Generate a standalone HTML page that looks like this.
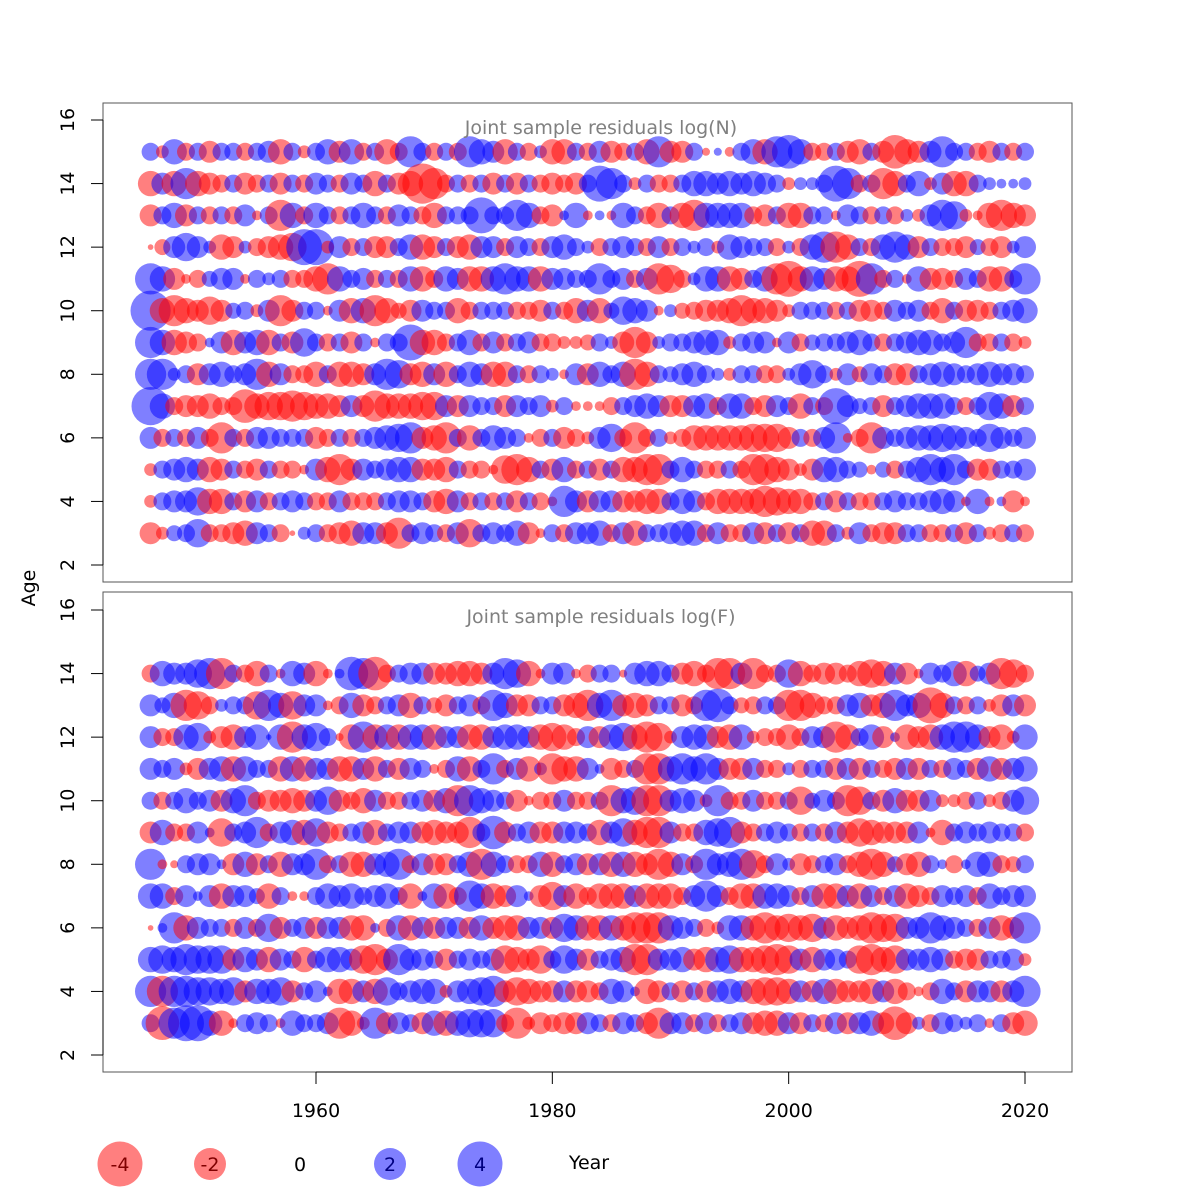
<!DOCTYPE html>
<html><head><meta charset="utf-8"><style>
html,body{margin:0;padding:0;background:#fff}
svg{display:block;font-family:"DejaVu Sans","Liberation Sans",sans-serif}
</style></head><body>
<svg id="chart" width="1200" height="1200" viewBox="0 0 1200 1200" xmlns="http://www.w3.org/2000/svg">
<rect width="1200" height="1200" fill="#fff"/>
<g id="panelN"></g>
<g id="panelF"></g>
<g id="axes"></g>
<text x="35" y="588" font-size="19" text-anchor="middle" transform="rotate(-90 35 588)">Age</text>
<g>
<circle cx="120" cy="1164" r="22.5" fill="rgba(255,0,0,0.5)"/>
<text x="120" y="1171" font-size="19" text-anchor="middle" fill="#800000">-4</text>
<circle cx="210" cy="1164" r="16" fill="rgba(255,0,0,0.5)"/>
<text x="210" y="1171" font-size="19" text-anchor="middle" fill="#800000">-2</text>
<text x="300" y="1171" font-size="19" text-anchor="middle">0</text>
<circle cx="390" cy="1164" r="16" fill="rgba(0,0,255,0.5)"/>
<text x="390" y="1171" font-size="19" text-anchor="middle" fill="#000080">2</text>
<circle cx="480" cy="1164" r="22.5" fill="rgba(0,0,255,0.5)"/>
<text x="480" y="1171" font-size="19" text-anchor="middle" fill="#000080">4</text>
<text x="589" y="1169" font-size="19" text-anchor="middle">Year</text>
</g>
</svg>
<script>
const years = []; for (let y = 1946; y <= 2020; y++) years.push(y);
const xTicks = [1960, 1980, 2000, 2020];
const yTicks = [2, 4, 6, 8, 10, 12, 14, 16];
const agesN = [15,14,13,12,11,10,9,8,7,6,5,4,3];
const agesF = [14,13,12,11,10,9,8,7,6,5,4,3];
const resN15 = [1,-.5,2,-1,1,-1.5,1,1,-1,1, 1.5,-2,1,-.5,1,2,-1.5,2,-1,1, -2,-1,3,1,-1,1,-1,3,2,1.5, -2,1,-1,.5,-2,-2,1,-1,1.5,-1.5, -1,1,-2,3,-1.5,-1.5,1,-.2,.2,-.3, 1,2,-2,3,3.5,2,-1,-1,1,-1.5, -2,1,-1.5,-3.5,-2,-1.5,1.5,3,1,1, -1,-1.5,1,-1,1];
const resN14 = [-2,1.5,-2,3,-2,-1.5,-1,1,-1.5,-1, 1,-1.5,1,-1,1.5,1,-1,1.5,1,-2, 1,-1.5,-2,-5,-3,-1,1,-1,1,-1.5, 1,-1.5,1,-1,-1.5,-1,-1.5,1,4,3, 1,-.5,1,-1,-1,1,2,2,1.5,2, 1.5,2,1.5,1,-.5,.5,.5,1,4,3, -1,1,-3,-2,1,2,-.5,1.5,-2,-2, 1,.5,.3,.3,.5];
const resN13 = [-1.5,1,2,-1.5,1,-1,1,-1,1.5,-.3, 1,-3,2,-1,2,1,-1,1,2,1, -1,1.5,1,-1,-2,1,1,1,4,1, 1,3,2,-1,-1.5,.3,2,-.3,.3,-.3, 2,1,-1,-2,1,-2,-3,2,2,2, 2,-1,-1.5,1,-2,-2,1,1,-.3,1.5, 1,-1,1,-1,.5,-.5,1.5,3,2.5,-.5, -.3,-2,-3,-2,-1.5];
const resN12 = [-.1,-.8,1.5,2.5,1.5,.5,-2,-1.5,.5,-1, -1.5,-2,-2.5,4,4,-.5,1.5,-1,1,-1.5, -1.5,1,2,-2,-1.5,1,-1.5,-2,1.5,1.5, -1,1.5,1,-1,1.5,2,1,.5,-1,1, 1.5,1,-1,1.5,-1,1,.5,1,-.5,2, 1.5,1,1,-1,.5,-1,2,3,-3,-2, 1,-1,2,3,2,-1.5,1,-1,-1,-1.5, .8,-1,-1.5,.5,1.5];
const resN11 = [3,2,-1.5,-.3,-1,.8,1.5,1.5,-.3,1, .5,1,-1,-1,-2,-3,2,1,1.5,-1, 1,-1,2,-2,-1,2,1.5,-2,-2,2, 3,2,2,-2,1.5,1.5,1,1,3,1, 1.5,-1,1.5,-3,-2.5,-1,.5,2,2,-2, -1.5,1,2,-3,-4,-2,2,1.5,-2,-2, -4,3,-1,1,-.3,2,-1.5,-1.5,-1,1.5, 1,-2,-2,1,3];
const resN10 = [5,-2,-3,-2,-1.5,-2.5,-1.5,.8,1,-.5, 1.5,-3,-1.5,1,1,-.3,1.5,-2,2,-3, -2,-.8,-1.5,1.5,1,1,-2,-1,1,1, 1,-1,-1,-1.5,1,-1,-2,1.5,-2,.8, 2.5,2,1.5,-.3,.5,-.8,-1,-1.5,-1.5,-2, -3,-2,-2,-1.5,-.5,1,1,1,-1,1, -1.5,-1.5,-1,1.5,1,1.5,-1,-2,1,-1.5, -1.5,-1,1,1.5,2];
const resN9 = [3,2,-2,-1.5,-1,.3,1.5,-2,1.5,2, -2,1,-1.5,2.5,1,-1,1,-1.5,1,-.3, 1,1,4,-2,-2,-1,1,2,-1,1.5, -1,1,1.5,-1,-1,-.5,-.5,-.8,1,.5, -1.5,-3,-1.5,.5,1,1,1.5,2,2,-.5, 1,1.5,1.5,-.3,1.5,-1,.8,1,1,1.5, 2,1,-1,1,1.5,2,2,1,1.5,3, -1,-1,1,-1,-.5];
const resN8 = [3,3,.5,1,-1.5,1.5,2,1,1.5,3, -2,1.5,-1,-1,-2,1,-2,-2,-1.5,1.5, 3,2.5,-1.5,-2,1.5,-2,1,2,1.5,-2, -2,1,-1,1,.5,-.3,1.5,-1.5,2,1, 2,-3,-2,1,.8,1.5,2,1,.5,-.5, 1,1,-1,-1,.5,1.5,2.5,1,-.5,1.5, -.8,1.5,1,-1.5,-1.5,1,1.5,2,1.5,1, 1.5,2,1.5,1.5,1];
const resN7 = [4.5,2,-1,-1.5,-1.5,-2,-1,-1,-3.5,-2, -2.5,-2.5,-3,-2.5,-2,-2,-1.5,1.5,-1.5,-3, -2,-2,-2,-2.5,-2.5,1.5,-1.5,1.5,1,1, -1.5,1.5,1,1.5,-.5,1,-.3,-.3,-.3,-1, 1,1.5,2,1.5,-1.5,-1.5,1.5,2,-1,2, 2,-1,-1.5,1.5,1,-2,1,-1,4,1.5, .8,1,-1.5,1,1.5,2,2,2,1,-1, 1,2.5,2,-1.5,1];
const resN6 = [1.5,-1,1,-1,1.5,-1,-3,1,-1,1.5, 1.5,1,1,1,-1.5,-1,1,-1,1,1.5, 2,2.5,3,-1.5,-2,-3,1,-2,1,2, 1.5,1,-.3,-1,1,-1.5,-1,-.5,1.5,2.5, -1,-3,-1,1,-.5,-1,-2,-2,-2,-2, -2,-2.5,-2.5,-2.5,-1.5,1,-1,1.5,3,-.3, -1,-3,1.5,1,1.5,2,2,2.5,2,1.5, 1,2.5,1.5,1,1.5];
const resN5 = [-.5,1,1.5,2,1.5,-2,-1.5,1,-1,-1.5, 1,-1,-1,-.3,1.5,-2,-3,-1.5,1.5,1, 1.5,2,2,-1.5,-1.5,-2,1,-1,-1,-.3, -2.5,-3,-2,1,-1.5,2,-1,1,-1.5,1, -2,-2,-3,-3,1,2,1,-1,-1,1, -1,-3,-3,-2,-1.5,-.5,-1.5,2,2,1, .8,-.3,.8,-1,1,2,3,2,3,1, -1.5,-1.5,1,1,1.5];
const resN4 = [-.5,1,1.5,1.5,2.5,-2,-2,1,-1.5,1.5, -1,1,1.5,1,-1,-1,1.5,-1,-1,-1, 1,1.5,1.5,1,-1.5,-2,1.5,-1,1,-1, 1,-1.5,1,-1,-.3,3,1.5,-1.5,1.5,1.5, -1.5,-1.5,-2,-2,1,2,1.5,-1,-2,-2, -2,-2,-3,-2.5,-2,-2,-1,1,-1.5,1, -1,-1,1,1.5,1,1,1.5,2,1.5,-.3, 2,-.3,.3,-1.5,-.3];
const resN3 = [-1.5,-.5,.8,1,2.5,-1,-1,-1.5,-2,1.5, 1,-1,-.1,.5,1,-1,-1.5,-2,1.5,1.5, -1.5,-3,1,1.5,1,-1,1.5,-2.5,1,1.5, 1,2,-1.5,-.3,1,-1,1.5,1.5,2,-1, 1.5,-2,1,1,1.5,2,2,-1,1.5,-1, -1,1.5,-1.5,1,-1.5,1,-2,-2,1,-.5, 1.5,-1,-1.5,-1.5,1,1,-1,-1,1,-1.5, 1,-.5,-1,1,-1];
const resF14 = [-1,2,1.5,1.5,2.5,3,-3,1,-1,-2, 1,-.3,2,1.5,-2,-.3,.3,3.5,3,-3.5, -1,1,1.5,1.5,-1.5,-1.5,-2,-2,-1.5,1.5, 3,2.5,-2,-.3,1.5,1.5,-.3,-1,1,1, -.2,1.5,2,2,1,-1.5,-2,-1,-3,-3, 1.5,-3,-1,-1,2.5,-2,-1,-1.5,-1.5,-1, -2,-2.5,-2,1.5,-1.5,-.3,1.5,1,2,-2, .8,1.5,-3,-2.5,-1];
const resF13 = [1.5,.8,2,-3,-2.5,-1,.5,1,1,-2.5, 3,2,-2.5,1.5,1.5,-.3,-1,2,-1.5,-1, 1,1.5,-2,1,-.8,-1.5,1,1.5,-1,3, 2,-1.5,-1.5,1,1,-1.5,-2,-3,2,3, -1.5,-2,-1.5,1,1,-1.5,-1,3,3.5,1, -.8,-1,1,1,-3,-3,-2,-1,-1,1.5, 2,-1.5,-2,3,1.5,2,-4,-2,1,-1, 1,-.5,-1.5,1.5,-1.5];
const resF12 = [1.5,-1,-1,2,2.5,-.5,-1.5,-2,1.5,2, .1,2,-3,2,2.5,1,-.2,-2,3,-2, 2,-2,2,2,-2,1.5,1.5,-2,-2,1.5, 2,2,1.5,-2,-2.5,-2,-1,1.5,-1.5,2, 2.5,-2,-3,-2.5,-.5,1.5,2,2,-1.5,-2, 2,-.5,-1,-1,-2,-1,1.5,1.5,-3,-2, 1,2,-1.5,.3,-2,-1.5,-2,2,3,3, 2,-1.5,-2,-.5,2];
const resF11 = [1.5,1,1.5,-.5,-1.5,1.5,2,-2,2,1, 1,-2,2,-2,1.5,1.5,-2,-2,1.5,-2, 1,-1.5,1.5,1,-.3,-1,2,-2,1,3, -1,1.5,-2,.5,-3,-2,-2,1.5,.3,-1.5, -1,1,-3,-3,2,3,2,3,1.5,-1.5, -1.5,1.5,-1,-1,.5,-1,1,1,-1.5,1.5, -1.5,1,-1,-1.5,1.5,-1.5,1,-1,1.5,1, -1.5,2,-1.5,1.5,2];
const resF10 = [1,-1,1,2,1,1.5,-1.5,2,3,-1, -1.5,-1.5,-2,-1.5,1.5,2.5,-1.5,-1,-2,1.5, -1,-1,1,1.5,-1.5,2,-3,3,2,1.5, 1,-1.5,-.3,-1,-1,1.5,-1,-1,1,-3, 2,2.5,-3,-3,1.5,2,1.5,-.5,3,-1, -1,1.5,-1,-1,1,-2.5,.8,1.5,1,-3, -2.5,1,-1.5,2,-1.5,-1.5,1.5,-.5,-.5,-1, 1,-.5,-1,1.5,2.5];
const resF9 = [-1.5,2,-1,-1,1.5,.3,-2.5,1,1.5,3, -1,1.5,2,-2,2.5,-1.5,-1,1,1.5,-2, 1,1.5,1.5,-1.5,-2,-1.5,-1.5,-3,1,3.5, -1.5,1,1.5,-1.5,-1.5,1.5,1.5,1,-2,1.5, 2.5,-2,-3,-3,1.5,-1,-1,2,2.5,3, -1.5,-1,1,1.5,1,-1,1,-1,1.5,-1.5, -2.5,-2,-1.5,-1.5,-1.5,1.5,-.3,-2,1,1.5, 1,1.5,1,1,-1];
const resF8 = [3,-.3,-.2,1,1.5,1.5,.3,-1.5,2,-1.5, 1,-2,1.5,1.5,3,-1,1,-2,-2,1.5, 2,3,-1,1.5,-1.5,-1.5,1,2,-3,2, 1,-1,-1,2,-2,1,1.5,-1.5,1.5,-2, 2,-2,-1.5,-3,-2,1.5,-1,3,1.5,2, 3,-2.5,-1,1.5,.5,-1.5,-1,1,1.5,-1, -2,-3,-2,.8,-1.5,-2,1,.3,-1,.3, 2,2,-1,-.8,1];
const resF7 = [2,2,-1,1.5,.3,1.5,-2,1.5,1.5,.8, -2,1,-.3,-.3,1,2,1.5,2,1,1.5, 2,1,-2,.3,2,-2,-1,3,2,-2, -1.5,1.5,.3,-1.5,-2.5,1.5,-2,-1,-2,-2, -2,1.5,-2,-2,-2,-1,1.5,3,1.5,-1, -2,-2,2,2,1.5,-1,1.5,-2,-2,1.5, -2,1.5,-1,1.5,-2,-1.5,-1,1.5,1,1.5, -1,2,1,1.5,1.5];
const resF6 = [-.1,.3,3,-2,1.5,1,1,-1,1.5,-1, 2.5,-1.5,1,1.5,-1.5,1.5,1.5,-2,-2,.3, -1,2,-2,1.5,-1.5,1.5,1.5,-1.5,2,-1.5, -2,-2,1.5,1.5,-1.5,2.5,2,-2,-2,2, -2,-3,-3,-3,2,1.5,1,-1,-.5,2, 2,-2,-3,-2,-2.5,-2,-2.5,1.5,-2,-1.5, -2,-3,-2.5,-2.5,1.5,1.5,3,2,1.5,1, -1,1.5,-2,-1.5,3];
const resF5 = [2,2.5,2,3,2.5,2.5,2.5,-1.5,2,1.5, -2,1.5,1,-2,1,2,2,1.5,-2.5,-3, -1.5,3,1.5,1.5,1,-1.5,1,1.5,1,1.5, -2.5,-2,-1.5,-2.5,1,2.5,1.5,-1.5,1,1.5, 2,-3,-3,1.5,1.5,2,-1.5,-2,2,2.5, -2,-2,-2.5,-3,-2.5,1.5,-2,1.5,1.5,1, -2.5,-3,-2,-2.5,1.5,1.5,2,1.5,-1,-1.5, -1.5,1,1,1.5,-.5];
const resF4 = [3,-3,3,3,2.5,2.5,2,2.5,-1.5,2, 2,2.5,-1.5,1,1.5,.3,-2,-2,1.5,-2, 2.5,1,1.5,2,2,-.5,1.5,2,2.5,3, -1.5,-2.5,-2,-1.5,-1.5,1.5,-1.5,-1.5,-1,2, 1.5,.3,-2,-1.5,1,-1.5,1,-1.5,1.5,2, 1.5,-2,-2.5,-2.5,-2,1.5,-1.5,2,-2,-1.5, -1.5,-2,1.5,-2,-1,-.3,-1,2,1,-1.5, 1.5,1.5,-1.5,1.5,3];
const resF3 = [1,-3.5,3,4,4,2,-2,-.3,1,1.5, 1,-.3,2,1,1,1.5,-3,-2,-.5,3, -1.5,1.5,1,-1.5,2,-2,2,2.5,2.5,2.5, -1,-3,-.5,-1.5,-1,-1.5,-1.5,1.5,1,-1, 1.5,1,-1.5,-3,1.5,1.5,-1,1.5,-1,1, 1.5,-1.5,-2,-2,1.5,-1.5,1,-1,1.5,-1.5, 1.5,2,-1.5,-3.5,-1.5,.5,-1,1.5,1,.5, 1,-.3,1,-1.5,-2];
const residN = [resN15,resN14,resN13,resN12,resN11,resN10,resN9,resN8,resN7,resN6,resN5,resN4,resN3];
const residF = [resF14,resF13,resF12,resF11,resF10,resF9,resF8,resF7,resF6,resF5,resF4,resF3];

const NS = 'http://www.w3.org/2000/svg';
const X0 = 103, X1 = 1072;
const xScale = yr => 316 + (yr - 1960) * (1025 - 316) / 60;
const panels = [
  {g: 'panelN', top: 103, bottom: 582, y16: 120, y2: 565, title: 'Joint sample residuals log(N)', ages: agesN, data: residN, key: 'n'},
  {g: 'panelF', top: 592, bottom: 1072, y16: 610, y2: 1055, title: 'Joint sample residuals log(F)', ages: agesF, data: residF, key: 'f'}
];
const rScale = v => 9 * Math.sqrt(Math.abs(v));
function mk(tag, attrs) { const e = document.createElementNS(NS, tag); for (const k in attrs) e.setAttribute(k, attrs[k]); return e; }

panels.forEach(p => {
  const g = document.getElementById(p.g);
  const yScale = a => p.y2 + (a - 2) * (p.y16 - p.y2) / 14;
  p.ages.forEach((age, ai) => {
    p.data[ai].forEach((v, yi) => {
      if (v === undefined || v === 0) return;
      const c = mk('circle', {cx: xScale(years[yi]).toFixed(1), cy: yScale(age).toFixed(1), r: rScale(v).toFixed(1), fill: v < 0 ? 'rgba(255,0,0,0.5)' : 'rgba(0,0,255,0.5)'});
      
      
      g.appendChild(c);
    });
  });
  const box = mk('rect', {x: X0, y: p.top, width: X1 - X0, height: p.bottom - p.top, fill: 'none', stroke: '#555', 'stroke-width': 1});
  
  
  g.appendChild(box);
  const t = mk('text', {x: 601, y: p.top + 31, 'font-size': 19, 'text-anchor': 'middle', fill: '#808080'});
  t.textContent = p.title;
  
  
  g.appendChild(t);
  yTicks.forEach(v => {
    const y = yScale(v);
    const tk = mk('line', {x1: 91, x2: X0, y1: y, y2: y, stroke: '#000'});
    
    
    g.appendChild(tk);
    const lb = mk('text', {x: 74, y: y, 'font-size': 19, 'text-anchor': 'middle', transform: 'rotate(-90 74 ' + y + ')'});
    lb.textContent = v;
    
    
    g.appendChild(lb);
  });
  const ax = mk('line', {x1: X0, x2: X0, y1: yScale(2), y2: yScale(16), stroke: '#000'});
  
  
  g.appendChild(ax);
});

const axes = document.getElementById('axes');
const xl = mk('line', {x1: xScale(1960), x2: xScale(2020), y1: 1072, y2: 1072, stroke: '#000'});


axes.appendChild(xl);
xTicks.forEach(v => {
  const x = xScale(v);
  const tk = mk('line', {x1: x, x2: x, y1: 1072, y2: 1084, stroke: '#000'});
  
  
  axes.appendChild(tk);
  const lb = mk('text', {x: x, y: 1117, 'font-size': 19, 'text-anchor': 'middle'});
  lb.textContent = v;
  
  
  axes.appendChild(lb);
});
</script>
</body></html>
